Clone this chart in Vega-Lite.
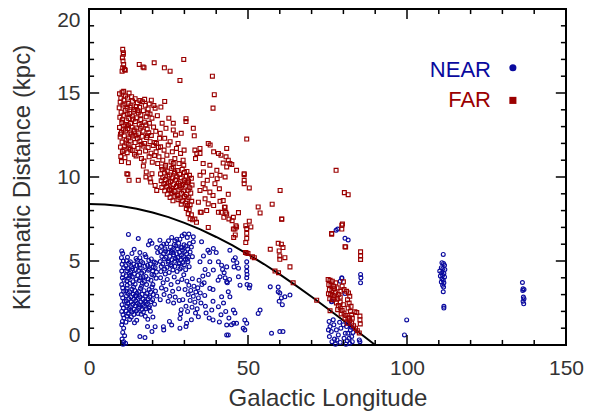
{
"$schema": "https://vega.github.io/schema/vega-lite/v6.json",
"width": 477, "height": 336,
"autosize": {"type": "none"},
"padding": {"left": 89, "top": 9, "right": 23, "bottom": 74},
"background": "white",
"config": {"view": {"stroke": "#000", "strokeWidth": 2}, "font": "Liberation Sans"},
"datasets": {
"ticks": [
{"x":10,"x2":10,"y":0,"y2":0.3},{"x":20,"x2":20,"y":0,"y2":0.3},{"x":30,"x2":30,"y":0,"y2":0.3},{"x":40,"x2":40,"y":0,"y2":0.3},{"x":50,"x2":50,"y":0,"y2":0.6},{"x":60,"x2":60,"y":0,"y2":0.3},{"x":70,"x2":70,"y":0,"y2":0.3},{"x":80,"x2":80,"y":0,"y2":0.3},{"x":90,"x2":90,"y":0,"y2":0.3},{"x":100,"x2":100,"y":0,"y2":0.6},{"x":110,"x2":110,"y":0,"y2":0.3},{"x":120,"x2":120,"y":0,"y2":0.3},{"x":130,"x2":130,"y":0,"y2":0.3},{"x":140,"x2":140,"y":0,"y2":0.3},
{"x":10,"x2":10,"y":20,"y2":19.7},{"x":20,"x2":20,"y":20,"y2":19.7},{"x":30,"x2":30,"y":20,"y2":19.7},{"x":40,"x2":40,"y":20,"y2":19.7},{"x":50,"x2":50,"y":20,"y2":19.4},{"x":60,"x2":60,"y":20,"y2":19.7},{"x":70,"x2":70,"y":20,"y2":19.7},{"x":80,"x2":80,"y":20,"y2":19.7},{"x":90,"x2":90,"y":20,"y2":19.7},{"x":100,"x2":100,"y":20,"y2":19.4},{"x":110,"x2":110,"y":20,"y2":19.7},{"x":120,"x2":120,"y":20,"y2":19.7},{"x":130,"x2":130,"y":20,"y2":19.7},{"x":140,"x2":140,"y":20,"y2":19.7},
{"x":0,"x2":1.6,"y":1,"y2":1},{"x":0,"x2":1.6,"y":2,"y2":2},{"x":0,"x2":1.6,"y":3,"y2":3},{"x":0,"x2":1.6,"y":4,"y2":4},{"x":0,"x2":3.2,"y":5,"y2":5},{"x":0,"x2":1.6,"y":6,"y2":6},{"x":0,"x2":1.6,"y":7,"y2":7},{"x":0,"x2":1.6,"y":8,"y2":8},{"x":0,"x2":1.6,"y":9,"y2":9},{"x":0,"x2":3.2,"y":10,"y2":10},{"x":0,"x2":1.6,"y":11,"y2":11},{"x":0,"x2":1.6,"y":12,"y2":12},{"x":0,"x2":1.6,"y":13,"y2":13},{"x":0,"x2":1.6,"y":14,"y2":14},{"x":0,"x2":3.2,"y":15,"y2":15},{"x":0,"x2":1.6,"y":16,"y2":16},{"x":0,"x2":1.6,"y":17,"y2":17},{"x":0,"x2":1.6,"y":18,"y2":18},{"x":0,"x2":1.6,"y":19,"y2":19},
{"x":150,"x2":148.4,"y":1,"y2":1},{"x":150,"x2":148.4,"y":2,"y2":2},{"x":150,"x2":148.4,"y":3,"y2":3},{"x":150,"x2":148.4,"y":4,"y2":4},{"x":150,"x2":146.8,"y":5,"y2":5},{"x":150,"x2":148.4,"y":6,"y2":6},{"x":150,"x2":148.4,"y":7,"y2":7},{"x":150,"x2":148.4,"y":8,"y2":8},{"x":150,"x2":148.4,"y":9,"y2":9},{"x":150,"x2":146.8,"y":10,"y2":10},{"x":150,"x2":148.4,"y":11,"y2":11},{"x":150,"x2":148.4,"y":12,"y2":12},{"x":150,"x2":148.4,"y":13,"y2":13},{"x":150,"x2":148.4,"y":14,"y2":14},{"x":150,"x2":146.8,"y":15,"y2":15},{"x":150,"x2":148.4,"y":16,"y2":16},{"x":150,"x2":148.4,"y":17,"y2":17},{"x":150,"x2":148.4,"y":18,"y2":18},{"x":150,"x2":148.4,"y":19,"y2":19}
],
"curve": [{"l":0,"d":8.40},{"l":5,"d":8.37},{"l":10,"d":8.27},{"l":15,"d":8.11},{"l":20,"d":7.89},{"l":25,"d":7.61},{"l":30,"d":7.27},{"l":35,"d":6.88},{"l":40,"d":6.43},{"l":45,"d":5.94},{"l":50,"d":5.40},{"l":55,"d":4.82},{"l":60,"d":4.20},{"l":65,"d":3.55},{"l":70,"d":2.87},{"l":75,"d":2.17},{"l":80,"d":1.46},{"l":85,"d":0.73},{"l":90,"d":0}],
"near": [
{"l":10.3,"d":5.6},{"l":10.6,"d":5.45},{"l":10.2,"d":5.2},{"l":10.8,"d":5.0},{"l":10.4,"d":4.8},{"l":10.9,"d":4.6},{"l":10.3,"d":4.4},{"l":10.7,"d":4.2},{"l":10.5,"d":4.0},{"l":11.0,"d":3.85},{"l":10.3,"d":3.6},{"l":10.6,"d":3.4},{"l":10.9,"d":3.2},{"l":10.2,"d":3.0},{"l":10.6,"d":2.8},{"l":11.1,"d":2.6},{"l":10.4,"d":2.4},{"l":10.8,"d":2.2},{"l":10.3,"d":2.0},{"l":10.7,"d":1.8},{"l":11.0,"d":1.6},{"l":10.5,"d":1.4},{"l":10.3,"d":1.2},{"l":10.9,"d":1.0},{"l":10.6,"d":0.75},{"l":11.2,"d":0.55},{"l":10.4,"d":0.35},{"l":10.9,"d":0.2},{"l":11.5,"d":0.1},{"l":10.7,"d":0.05},
{"l":12.1,"d":5.22},{"l":14.8,"d":5.15},{"l":17.9,"d":5.25},{"l":19.6,"d":5.12},
{"l":11.8,"d":5.02},{"l":13.0,"d":4.95},{"l":15.2,"d":5.05},{"l":16.4,"d":4.97},{"l":18.8,"d":5.03},{"l":20.5,"d":4.94},
{"l":12.5,"d":4.86},{"l":14.1,"d":4.82},{"l":16.9,"d":4.9},{"l":19.3,"d":4.81},{"l":21.0,"d":4.88},
{"l":11.6,"d":4.72},{"l":13.4,"d":4.66},{"l":15.0,"d":4.74},{"l":17.6,"d":4.68},{"l":18.4,"d":4.75},{"l":20.2,"d":4.64},
{"l":12.2,"d":4.56},{"l":14.6,"d":4.5},{"l":16.1,"d":4.58},{"l":19.0,"d":4.52},{"l":20.8,"d":4.6},
{"l":11.9,"d":4.42},{"l":13.1,"d":4.36},{"l":15.6,"d":4.44},{"l":17.2,"d":4.38},{"l":18.7,"d":4.45},{"l":21.2,"d":4.34},
{"l":12.7,"d":4.27},{"l":14.3,"d":4.22},{"l":16.6,"d":4.28},{"l":19.8,"d":4.2},
{"l":11.7,"d":4.12},{"l":13.6,"d":4.06},{"l":15.3,"d":4.14},{"l":17.9,"d":4.08},{"l":20.4,"d":4.15},
{"l":12.4,"d":3.97},{"l":14.9,"d":3.92},{"l":16.3,"d":3.99},{"l":18.6,"d":3.93},{"l":21.1,"d":3.98},
{"l":11.9,"d":3.82},{"l":13.8,"d":3.77},{"l":15.8,"d":3.84},{"l":17.4,"d":3.78},{"l":19.5,"d":3.85},
{"l":12.9,"d":3.67},{"l":14.5,"d":3.62},{"l":16.8,"d":3.68},{"l":20.1,"d":3.6},
{"l":12.0,"d":3.38},{"l":13.5,"d":3.32},{"l":16.2,"d":3.37},{"l":18.9,"d":3.3},
{"l":11.6,"d":3.22},{"l":12.8,"d":3.16},{"l":14.4,"d":3.24},{"l":15.7,"d":3.18},{"l":17.3,"d":3.23},{"l":19.4,"d":3.15},{"l":20.9,"d":3.21},
{"l":12.3,"d":3.07},{"l":13.9,"d":3.02},{"l":15.1,"d":3.08},{"l":16.7,"d":3.01},{"l":18.2,"d":3.06},{"l":20.2,"d":3.0},
{"l":11.8,"d":2.92},{"l":13.2,"d":2.86},{"l":14.8,"d":2.93},{"l":16.0,"d":2.87},{"l":17.8,"d":2.92},{"l":19.1,"d":2.85},{"l":21.3,"d":2.91},
{"l":12.5,"d":2.77},{"l":14.0,"d":2.72},{"l":15.5,"d":2.78},{"l":17.0,"d":2.71},{"l":18.6,"d":2.76},{"l":20.0,"d":2.7},
{"l":11.7,"d":2.62},{"l":13.3,"d":2.57},{"l":14.7,"d":2.63},{"l":16.3,"d":2.56},{"l":17.6,"d":2.61},{"l":19.5,"d":2.58},
{"l":12.2,"d":2.47},{"l":13.8,"d":2.42},{"l":15.2,"d":2.48},{"l":16.9,"d":2.41},{"l":18.3,"d":2.46},{"l":20.6,"d":2.43},
{"l":11.9,"d":2.32},{"l":13.0,"d":2.27},{"l":14.5,"d":2.33},{"l":15.9,"d":2.26},{"l":17.4,"d":2.31},{"l":19.0,"d":2.28},
{"l":12.6,"d":2.17},{"l":14.2,"d":2.12},{"l":15.6,"d":2.18},{"l":16.6,"d":2.11},{"l":18.0,"d":2.16},
{"l":11.7,"d":2.02},{"l":13.5,"d":1.97},{"l":14.9,"d":2.03},{"l":17.1,"d":1.96},{"l":19.3,"d":2.01},
{"l":12.3,"d":1.87},{"l":14.1,"d":1.82},{"l":15.4,"d":1.88},{"l":16.4,"d":1.83},
{"l":11.9,"d":1.72},{"l":13.3,"d":1.67},{"l":17.7,"d":1.71},{"l":20.1,"d":1.66},
{"l":12.8,"d":1.52},{"l":15.0,"d":1.47},{"l":18.5,"d":1.53},{"l":11.6,"d":1.36},{"l":14.3,"d":1.32},
{"l":13.7,"d":4.55},{"l":15.9,"d":4.75},{"l":17.0,"d":4.05},{"l":18.1,"d":3.6},{"l":12.0,"d":3.55},{"l":14.0,"d":3.45},{"l":16.5,"d":3.5},{"l":19.8,"d":3.45},{"l":13.1,"d":2.05},{"l":15.8,"d":2.4},{"l":17.9,"d":2.55},{"l":14.6,"d":2.95},{"l":18.8,"d":2.2},{"l":12.9,"d":4.1},{"l":20.0,"d":4.4},{"l":16.0,"d":5.2},
{"l":16.0,"d":0.5},{"l":17.6,"d":0.44},{"l":18.4,"d":1.1},{"l":20.8,"d":1.09},{"l":19.8,"d":0.8},
{"l":12.4,"d":6.58},{"l":15.5,"d":6.34},{"l":19.2,"d":6.2},{"l":19.8,"d":6.05},{"l":18.7,"d":5.96},{"l":17.6,"d":5.39},{"l":21.3,"d":5.8},{"l":21.6,"d":5.5},{"l":16.0,"d":5.5},{"l":13.5,"d":5.45},{"l":14.2,"d":5.7},
{"l":22.3,"d":6.24},{"l":23.5,"d":6.0},{"l":26.0,"d":6.4},{"l":27.6,"d":6.3},{"l":29.3,"d":6.5},{"l":31.4,"d":6.6},{"l":32.8,"d":6.44},{"l":30.0,"d":6.6},{"l":30.9,"d":6.4},{"l":25.0,"d":6.2},
{"l":24.4,"d":6.03},{"l":26.8,"d":5.97},{"l":28.2,"d":6.05},{"l":29.9,"d":5.96},{"l":31.6,"d":6.04},
{"l":22.8,"d":5.87},{"l":25.6,"d":5.82},{"l":27.3,"d":5.89},{"l":28.9,"d":5.81},{"l":30.5,"d":5.88},{"l":32.2,"d":5.83},
{"l":23.9,"d":5.72},{"l":26.2,"d":5.67},{"l":27.8,"d":5.73},{"l":29.4,"d":5.66},{"l":31.0,"d":5.71},
{"l":22.5,"d":5.57},{"l":24.8,"d":5.52},{"l":25.9,"d":5.58},{"l":28.5,"d":5.51},{"l":30.1,"d":5.57},{"l":31.8,"d":5.53},
{"l":23.4,"d":5.42},{"l":26.6,"d":5.37},{"l":27.5,"d":5.43},{"l":29.1,"d":5.36},{"l":30.7,"d":5.41},
{"l":22.9,"d":5.27},{"l":24.2,"d":5.22},{"l":25.4,"d":5.28},{"l":28.0,"d":5.21},{"l":29.7,"d":5.27},{"l":31.3,"d":5.23},{"l":32.5,"d":5.26},
{"l":23.7,"d":5.12},{"l":26.1,"d":5.07},{"l":27.2,"d":5.13},{"l":28.8,"d":5.06},{"l":30.3,"d":5.11},
{"l":22.4,"d":4.97},{"l":24.9,"d":4.92},{"l":26.9,"d":4.98},{"l":29.5,"d":4.91},{"l":31.1,"d":4.96},
{"l":23.2,"d":4.82},{"l":25.7,"d":4.77},{"l":28.3,"d":4.83},{"l":30.0,"d":4.78},
{"l":22.7,"d":4.67},{"l":24.5,"d":4.62},{"l":27.0,"d":4.68},{"l":29.0,"d":4.61},{"l":31.5,"d":4.66},
{"l":23.8,"d":4.52},{"l":26.4,"d":4.47},{"l":28.6,"d":4.53},{"l":30.4,"d":4.48},
{"l":22.6,"d":4.37},{"l":25.2,"d":4.32},{"l":27.7,"d":4.38},{"l":24.0,"d":4.22},{"l":29.8,"d":4.18},
{"l":27.0,"d":6.2},{"l":28.6,"d":6.3},{"l":25.0,"d":5.0},{"l":26.4,"d":5.5},{"l":27.9,"d":5.2},{"l":29.2,"d":5.8},{"l":30.9,"d":5.1},{"l":24.1,"d":5.6},{"l":28.4,"d":4.9},{"l":26.0,"d":4.7},
{"l":22.5,"d":4.0},{"l":24.6,"d":3.9},{"l":26.8,"d":4.05},{"l":23.3,"d":3.7},{"l":25.8,"d":3.6},{"l":27.9,"d":3.75},{"l":22.8,"d":3.4},{"l":24.2,"d":3.3},{"l":26.3,"d":3.2},{"l":28.2,"d":3.35},{"l":23.6,"d":3.0},{"l":25.4,"d":2.9},{"l":27.1,"d":2.85},{"l":22.4,"d":2.7},{"l":24.9,"d":2.6},{"l":26.6,"d":2.5},{"l":28.4,"d":2.65},
{"l":29.2,"d":3.9},{"l":30.8,"d":3.8},{"l":32.5,"d":3.95},{"l":34.6,"d":3.85},{"l":36.2,"d":3.7},{"l":31.4,"d":3.55},{"l":33.0,"d":3.5},{"l":34.2,"d":3.4},{"l":35.5,"d":3.6},{"l":30.2,"d":3.3},{"l":32.0,"d":3.25},{"l":33.6,"d":3.15},{"l":35.0,"d":3.1},{"l":31.2,"d":3.0},{"l":32.8,"d":2.9},{"l":34.4,"d":2.8},{"l":36.4,"d":2.95},{"l":29.5,"d":2.7},{"l":31.8,"d":2.65},{"l":33.3,"d":2.55},{"l":35.2,"d":2.5},{"l":30.5,"d":2.3},{"l":32.4,"d":2.25},{"l":34.0,"d":2.15},{"l":36.6,"d":2.3},{"l":29.0,"d":2.1},{"l":31.0,"d":2.0},{"l":28.8,"d":1.85},{"l":33.5,"d":1.9},
{"l":34.4,"d":1.68},{"l":32.2,"d":1.5},{"l":28.6,"d":1.58},{"l":30.7,"d":1.29},{"l":30.5,"d":1.1},{"l":26.0,"d":1.19},{"l":25.3,"d":1.4},{"l":23.4,"d":1.09},{"l":23.5,"d":0.9},{"l":28.6,"d":1.0},{"l":39.0,"d":1.49},{"l":41.0,"d":1.37},{"l":43.8,"d":0.6},{"l":43.3,"d":1.19},{"l":45.5,"d":1.29},{"l":49.0,"d":1.49},{"l":49.6,"d":1.29},{"l":48.5,"d":0.99},{"l":46.4,"d":1.29},{"l":44.8,"d":1.2},{"l":49.0,"d":0.9},{"l":43.3,"d":0.6},{"l":53.8,"d":2.08},{"l":53.2,"d":1.88},{"l":57.4,"d":0.7},{"l":60.0,"d":0.8},{"l":61.0,"d":0.8},
{"l":32.8,"d":6.14},{"l":35.4,"d":6.14},{"l":37.4,"d":5.64},{"l":37.9,"d":5.5},{"l":39.1,"d":5.74},{"l":44.3,"d":5.64},{"l":34.9,"d":4.95},{"l":38.0,"d":4.95},{"l":40.7,"d":4.95},{"l":41.7,"d":4.75},{"l":39.1,"d":4.46},{"l":43.3,"d":4.65},{"l":45.4,"d":5.05},{"l":45.6,"d":4.65},{"l":47.0,"d":4.06},{"l":49.6,"d":4.95},{"l":49.6,"d":4.66},{"l":49.6,"d":4.4},{"l":49.7,"d":4.2},{"l":49.6,"d":4.0},{"l":49.7,"d":3.6},{"l":50.4,"d":3.4},{"l":41.2,"d":4.06},{"l":40.6,"d":3.86},{"l":43.3,"d":3.76},{"l":44.2,"d":3.9},{"l":38.0,"d":3.37},{"l":39.0,"d":3.3},{"l":41.7,"d":2.87},{"l":39.0,"d":2.6},{"l":38.6,"d":2.08},{"l":40.7,"d":2.28},{"l":44.3,"d":2.87},{"l":45.4,"d":2.08},{"l":45.9,"d":1.9},{"l":37.5,"d":4.2},{"l":36.5,"d":4.5},{"l":42.5,"d":4.3},{"l":46.0,"d":5.2},{"l":46.5,"d":4.9},{"l":47.0,"d":4.57},{"l":50.6,"d":3.56},{"l":47.5,"d":3.56},{"l":43.8,"d":3.17},{"l":42.0,"d":4.5},{"l":42.8,"d":4.0},{"l":43.5,"d":3.7},{"l":42.3,"d":2.5},{"l":43.0,"d":2.0},{"l":41.5,"d":1.8},{"l":44.0,"d":1.6},{"l":36.8,"d":1.9},{"l":37.8,"d":1.6},{"l":35.8,"d":4.1},{"l":36.0,"d":5.3},{"l":40.0,"d":5.5},
{"l":57.0,"d":3.46},{"l":59.5,"d":3.45},{"l":60.0,"d":3.1},{"l":60.5,"d":2.8},{"l":60.8,"d":2.4},{"l":59.8,"d":2.6},{"l":61.6,"d":2.87},{"l":63.2,"d":2.97},{"l":59.5,"d":3.17},
{"l":77.7,"d":6.83},{"l":78.2,"d":6.9},{"l":80.5,"d":6.35},{"l":81.5,"d":6.25},{"l":79.5,"d":4.0},{"l":79.0,"d":3.8},{"l":79.5,"d":3.96},{"l":76.3,"d":2.57},{"l":80.5,"d":3.07},{"l":85.4,"d":4.2},{"l":85.5,"d":4.0},{"l":85.4,"d":3.7},{"l":76.3,"d":2.6},{"l":75.5,"d":1.4},{"l":75.8,"d":1.1},{"l":76.2,"d":0.8},{"l":75.6,"d":0.5},{"l":76.4,"d":0.2},{"l":77.0,"d":1.2},{"l":77.8,"d":0.9},{"l":78.4,"d":0.6},{"l":78.0,"d":0.3},{"l":79.2,"d":1.0},{"l":79.0,"d":0.15},{"l":77.5,"d":0.05},{"l":80.2,"d":0.4},{"l":81.0,"d":1.1},{"l":81.4,"d":0.7},{"l":81.8,"d":0.4},{"l":82.2,"d":0.9},{"l":82.0,"d":0.1},{"l":82.6,"d":0.5},{"l":81.2,"d":0.25},{"l":82.8,"d":0.2},{"l":83.0,"d":0.75},{"l":80.8,"d":0.05},{"l":85.0,"d":0.3},{"l":85.2,"d":0.2},{"l":76.8,"d":1.5},{"l":78.8,"d":1.35},{"l":80.0,"d":1.2},{"l":82.5,"d":1.05},{"l":75.3,"d":0.9},{"l":77.2,"d":0.35},{"l":80.6,"d":0.7},{"l":81.6,"d":1.3},
{"l":99.9,"d":1.49},{"l":99.2,"d":0.6},
{"l":111.4,"d":5.39},{"l":111.0,"d":4.9},{"l":111.5,"d":4.85},{"l":111.8,"d":4.75},{"l":110.8,"d":4.6},{"l":111.3,"d":4.55},{"l":111.9,"d":4.5},{"l":110.3,"d":4.4},{"l":110.9,"d":4.3},{"l":111.6,"d":4.25},{"l":111.2,"d":4.15},{"l":110.5,"d":4.1},{"l":111.8,"d":4.05},{"l":111.0,"d":3.95},{"l":111.4,"d":3.85},{"l":110.8,"d":3.75},{"l":111.6,"d":3.7},{"l":111.2,"d":3.55},{"l":111.5,"d":3.45},{"l":111.4,"d":3.17},{"l":111.6,"d":2.3},{"l":111.6,"d":2.2},
{"l":136.3,"d":3.72},{"l":136.5,"d":3.35},{"l":136.8,"d":3.3},{"l":136.4,"d":3.25},{"l":136.6,"d":2.85},{"l":136.8,"d":2.75},{"l":136.5,"d":2.6},{"l":136.7,"d":2.45}
],
"far": [
{"l":10.6,"d":17.6},{"l":10.8,"d":17.3},{"l":10.5,"d":17.1},{"l":10.7,"d":16.9},{"l":10.9,"d":16.7},{"l":10.6,"d":16.5},{"l":11.2,"d":16.4},{"l":10.4,"d":16.3},{"l":11.4,"d":16.35},{"l":10.8,"d":17.4},
{"l":15.8,"d":16.7},{"l":17.3,"d":16.5},{"l":17.0,"d":16.55},{"l":20.5,"d":16.8},{"l":23.7,"d":16.5},{"l":25.5,"d":16.3},{"l":28.6,"d":15.75},{"l":29.8,"d":17.0},{"l":38.8,"d":16.0},{"l":39.4,"d":14.9},{"l":39.0,"d":14.1},{"l":23.8,"d":14.5},{"l":49.6,"d":12.26},{"l":48.8,"d":10.2},{"l":48.8,"d":9.8},{"l":50.4,"d":9.35},{"l":60.1,"d":9.2},{"l":77.7,"d":10.4},{"l":80.3,"d":9.07},{"l":81.5,"d":8.95},
{"l":9.6,"d":14.95},{"l":10.4,"d":15.05},{"l":11.5,"d":14.82},{"l":12.6,"d":15.0},{"l":13.4,"d":14.78},{"l":14.5,"d":14.66},{"l":16.0,"d":14.55},{"l":17.5,"d":14.62},{"l":18.9,"d":14.35},{"l":20.4,"d":14.25},{"l":10.9,"d":15.1},{"l":12.1,"d":14.7},
{"l":9.8,"d":14.45},{"l":11.0,"d":14.58},{"l":12.3,"d":14.38},{"l":13.7,"d":14.52},{"l":15.2,"d":14.41},{"l":16.8,"d":14.48},{"l":19.6,"d":14.57},{"l":14.9,"d":14.2},
{"l":9.5,"d":14.12},{"l":10.7,"d":14.28},{"l":12.0,"d":14.09},{"l":13.2,"d":14.24},{"l":14.4,"d":14.02},{"l":15.9,"d":14.15},{"l":17.7,"d":14.27},{"l":20.8,"d":14.1},{"l":18.6,"d":14.05},
{"l":10.1,"d":13.86},{"l":11.4,"d":13.97},{"l":12.8,"d":13.78},{"l":14.0,"d":13.92},{"l":15.5,"d":13.82},{"l":17.1,"d":13.95},{"l":18.5,"d":13.8},{"l":16.3,"d":13.7},{"l":19.2,"d":13.75},
{"l":9.7,"d":13.55},{"l":11.0,"d":13.67},{"l":12.5,"d":13.48},{"l":13.6,"d":13.62},{"l":14.9,"d":13.52},{"l":16.3,"d":13.42},{"l":18.0,"d":13.58},{"l":19.8,"d":13.5},{"l":21.5,"d":13.65},{"l":10.5,"d":13.4},
{"l":10.3,"d":13.25},{"l":11.8,"d":13.35},{"l":13.1,"d":13.18},{"l":14.6,"d":13.3},{"l":15.8,"d":13.12},{"l":17.4,"d":13.26},{"l":19.0,"d":13.2},{"l":12.4,"d":13.05},
{"l":9.6,"d":12.95},{"l":10.9,"d":13.04},{"l":12.2,"d":12.88},{"l":13.5,"d":12.98},{"l":15.0,"d":12.92},{"l":16.6,"d":13.02},{"l":18.3,"d":12.85},{"l":20.3,"d":12.97},{"l":14.2,"d":12.8},
{"l":10.2,"d":12.66},{"l":11.5,"d":12.75},{"l":12.9,"d":12.62},{"l":14.2,"d":12.7},{"l":15.6,"d":12.58},{"l":17.0,"d":12.73},{"l":18.8,"d":12.64},{"l":21.0,"d":12.72},{"l":9.9,"d":12.55},
{"l":9.8,"d":12.38},{"l":11.1,"d":12.45},{"l":12.4,"d":12.32},{"l":13.8,"d":12.44},{"l":15.2,"d":12.3},{"l":16.7,"d":12.42},{"l":18.1,"d":12.35},{"l":19.6,"d":12.47},{"l":11.7,"d":12.2},
{"l":10.4,"d":12.08},{"l":11.7,"d":12.02},{"l":13.0,"d":12.14},{"l":14.5,"d":12.05},{"l":16.0,"d":12.12},{"l":17.5,"d":12.0},{"l":19.2,"d":12.1},{"l":20.7,"d":12.06},{"l":12.3,"d":11.95},
{"l":9.9,"d":11.78},{"l":11.2,"d":11.85},{"l":12.6,"d":11.73},{"l":14.1,"d":11.82},{"l":15.4,"d":11.7},{"l":17.0,"d":11.84},{"l":18.6,"d":11.75},{"l":20.2,"d":11.88},{"l":21.8,"d":11.76},
{"l":10.5,"d":11.52},{"l":12.0,"d":11.45},{"l":13.6,"d":11.58},{"l":15.9,"d":11.48},{"l":17.8,"d":11.55},{"l":19.5,"d":11.42},{"l":21.1,"d":11.5},{"l":14.3,"d":11.35},
{"l":10.0,"d":11.22},{"l":11.3,"d":11.15},{"l":14.8,"d":11.25},{"l":16.5,"d":11.1},{"l":18.9,"d":11.2},{"l":20.6,"d":11.28},
{"l":10.2,"d":10.92},{"l":12.4,"d":10.85},{"l":17.3,"d":10.95},{"l":19.9,"d":10.88},
{"l":10.0,"d":14.7},{"l":11.3,"d":14.35},{"l":12.9,"d":14.15},{"l":13.9,"d":13.45},{"l":11.6,"d":13.1},{"l":13.3,"d":12.55},{"l":10.8,"d":12.85},{"l":14.8,"d":12.45},{"l":12.0,"d":13.75},{"l":15.3,"d":13.95},{"l":16.1,"d":12.9},{"l":17.9,"d":13.1},{"l":18.4,"d":12.45},{"l":11.0,"d":11.6},{"l":13.0,"d":11.65},{"l":16.4,"d":11.95},
{"l":12.2,"d":10.16},{"l":12.6,"d":9.8},{"l":15.5,"d":9.8},{"l":17.1,"d":10.65},{"l":17.9,"d":10.0},{"l":19.4,"d":9.7},{"l":19.8,"d":10.2},{"l":21.3,"d":9.2},{"l":11.9,"d":10.2},{"l":19.2,"d":9.9},{"l":20.8,"d":9.5},{"l":18.0,"d":10.3},
{"l":22.6,"d":14.16},{"l":23.0,"d":13.2},{"l":26.5,"d":13.2},{"l":26.5,"d":12.8},{"l":27.2,"d":12.5},{"l":29.0,"d":12.6},{"l":30.5,"d":13.47},{"l":30.5,"d":13.3},{"l":32.8,"d":12.9},{"l":33.1,"d":12.45},{"l":24.2,"d":12.9},{"l":25.1,"d":13.5},{"l":22.4,"d":12.6},{"l":23.8,"d":12.3},{"l":25.5,"d":12.1},{"l":28.0,"d":12.0},{"l":22.2,"d":12.3},
{"l":21.2,"d":12.0},{"l":22.5,"d":11.8},{"l":23.6,"d":11.6},{"l":24.9,"d":11.9},{"l":26.2,"d":11.5},{"l":27.5,"d":11.7},{"l":28.8,"d":11.4},{"l":29.9,"d":11.6},{"l":22.0,"d":11.2},{"l":23.2,"d":11.0},{"l":24.5,"d":11.3},{"l":25.8,"d":10.9},{"l":27.0,"d":11.1},{"l":28.3,"d":10.8},{"l":29.6,"d":11.0},{"l":22.8,"d":10.6},{"l":24.1,"d":10.7},{"l":26.5,"d":10.6},{"l":21.6,"d":10.8},
{"l":23.0,"d":10.45},{"l":24.6,"d":10.35},{"l":26.0,"d":10.5},{"l":27.8,"d":10.38},{"l":29.3,"d":10.46},{"l":30.8,"d":10.33},
{"l":22.5,"d":10.18},{"l":23.8,"d":10.25},{"l":25.3,"d":10.12},{"l":26.9,"d":10.22},{"l":28.5,"d":10.15},{"l":30.0,"d":10.27},{"l":31.6,"d":10.1},
{"l":23.2,"d":9.96},{"l":24.8,"d":10.04},{"l":26.3,"d":9.93},{"l":27.6,"d":10.02},{"l":29.0,"d":9.95},{"l":30.6,"d":10.05},{"l":32.2,"d":9.92},
{"l":22.7,"d":9.78},{"l":24.0,"d":9.85},{"l":25.6,"d":9.74},{"l":27.2,"d":9.83},{"l":28.8,"d":9.72},{"l":29.9,"d":9.81},{"l":31.3,"d":9.76},
{"l":23.5,"d":9.58},{"l":25.0,"d":9.65},{"l":26.6,"d":9.54},{"l":28.1,"d":9.63},{"l":29.5,"d":9.56},{"l":31.0,"d":9.66},{"l":32.4,"d":9.52},
{"l":22.9,"d":9.38},{"l":24.4,"d":9.45},{"l":25.9,"d":9.34},{"l":27.5,"d":9.43},{"l":28.9,"d":9.35},{"l":30.3,"d":9.46},{"l":31.7,"d":9.36},
{"l":23.8,"d":9.18},{"l":25.3,"d":9.25},{"l":26.8,"d":9.14},{"l":28.3,"d":9.24},{"l":29.7,"d":9.16},{"l":31.2,"d":9.22},
{"l":24.6,"d":8.98},{"l":26.1,"d":9.05},{"l":27.7,"d":8.95},{"l":29.1,"d":9.03},{"l":30.6,"d":8.96},{"l":32.0,"d":9.04},
{"l":25.5,"d":8.78},{"l":27.0,"d":8.85},{"l":28.6,"d":8.75},{"l":30.0,"d":8.84},{"l":31.4,"d":8.77},
{"l":26.4,"d":8.58},{"l":28.0,"d":8.65},{"l":29.4,"d":8.56},{"l":30.9,"d":8.64},{"l":32.3,"d":8.55},
{"l":29.0,"d":8.38},{"l":30.4,"d":8.44},{"l":31.8,"d":8.35},{"l":30.6,"d":8.12},{"l":31.5,"d":8.05},{"l":31.2,"d":7.82},{"l":32.2,"d":7.75},{"l":31.8,"d":7.52},{"l":32.6,"d":7.45},
{"l":24.0,"d":10.6},{"l":27.0,"d":10.3},{"l":29.8,"d":10.7},{"l":25.8,"d":9.2},{"l":28.5,"d":9.5},{"l":30.5,"d":9.7},{"l":26.5,"d":10.8},{"l":23.9,"d":9.6},{"l":27.9,"d":8.9},{"l":31.0,"d":8.3},
{"l":33.3,"d":11.6},{"l":33.9,"d":11.4},{"l":33.5,"d":11.1},{"l":35.9,"d":10.8},{"l":38.0,"d":10.7},{"l":40.2,"d":10.4},{"l":34.9,"d":10.1},{"l":35.9,"d":9.6},{"l":34.9,"d":9.2},{"l":36.5,"d":9.3},{"l":38.0,"d":9.1},{"l":39.6,"d":9.6},{"l":40.3,"d":9.9},{"l":42.8,"d":10.0},{"l":43.3,"d":10.6},{"l":43.8,"d":11.0},{"l":37.5,"d":8.4},{"l":39.2,"d":8.3},{"l":40.7,"d":7.9},{"l":42.8,"d":8.2},{"l":43.3,"d":7.8},{"l":34.4,"d":8.5},{"l":33.3,"d":7.5},{"l":33.8,"d":7.3},{"l":37.0,"d":8.0},{"l":34.9,"d":11.7},{"l":34.9,"d":11.4},{"l":37.5,"d":12.0},{"l":38.1,"d":11.9},{"l":39.2,"d":11.5},{"l":40.7,"d":11.4},{"l":41.5,"d":11.3},{"l":43.3,"d":11.7},{"l":44.3,"d":10.8},{"l":46.4,"d":10.4},{"l":43.1,"d":11.2},{"l":42.2,"d":10.83},{"l":44.9,"d":10.74},{"l":41.2,"d":10.1},{"l":48.8,"d":10.14},{"l":48.8,"d":9.6},{"l":43.8,"d":8.97},{"l":41.2,"d":8.55},{"l":42.2,"d":8.6},{"l":42.6,"d":8.2},{"l":43.0,"d":7.9},{"l":42.4,"d":7.6},{"l":47.0,"d":7.88},{"l":45.4,"d":7.6},{"l":45.0,"d":7.4},{"l":50.4,"d":7.37},{"l":50.9,"d":7.03},{"l":53.2,"d":8.22},{"l":53.8,"d":7.86},{"l":57.6,"d":8.38},{"l":60.6,"d":7.49},{"l":49.6,"d":6.93},{"l":49.6,"d":6.65},{"l":49.6,"d":6.35},{"l":46.4,"d":7.03},{"l":46.0,"d":6.55},{"l":41.6,"d":7.9},{"l":44.0,"d":7.5},{"l":36.0,"d":10.3},{"l":37.2,"d":9.8},{"l":38.6,"d":10.1},{"l":39.0,"d":8.9},{"l":41.0,"d":9.3},{"l":36.5,"d":8.7},{"l":35.3,"d":7.9},{"l":35.0,"d":7.9},{"l":37.5,"d":7.0},{"l":45.4,"d":6.9},{"l":45.9,"d":6.9},{"l":46.2,"d":7.1},{"l":45.5,"d":6.4},{"l":49.3,"d":7.1},{"l":49.3,"d":6.1},{"l":57.0,"d":5.7},{"l":59.5,"d":6.05},{"l":60.0,"d":5.3},{"l":60.0,"d":5.1},{"l":60.6,"d":7.5},{"l":63.2,"d":4.65},{"l":59.8,"d":5.6},{"l":61.0,"d":5.8},{"l":61.6,"d":5.2},{"l":60.5,"d":6.0},
{"l":49.2,"d":5.5},{"l":49.6,"d":5.48},{"l":50.0,"d":5.45},{"l":52.0,"d":5.2},{"l":51.4,"d":5.25},{"l":58.5,"d":4.4},{"l":59.6,"d":4.3},{"l":64.2,"d":3.7},{"l":71.6,"d":2.67},{"l":75.8,"d":2.04},
{"l":76.3,"d":6.64},{"l":79.5,"d":7.13},{"l":79.5,"d":6.9},{"l":79.7,"d":7.2},{"l":80.5,"d":5.85},{"l":80.7,"d":5.84},{"l":85.4,"d":5.55},{"l":85.4,"d":5.3},{"l":85.4,"d":5.09},{"l":80.0,"d":3.76},{"l":76.3,"d":6.6},
{"l":75.2,"d":3.9},{"l":75.8,"d":3.85},{"l":76.5,"d":3.8},{"l":75.4,"d":3.6},{"l":76.1,"d":3.55},{"l":76.9,"d":3.5},{"l":77.6,"d":3.7},{"l":75.6,"d":3.3},{"l":76.4,"d":3.25},{"l":77.2,"d":3.35},{"l":78.0,"d":3.4},{"l":75.3,"d":3.05},{"l":76.0,"d":3.0},{"l":76.8,"d":2.95},{"l":77.5,"d":3.1},{"l":78.4,"d":3.0},{"l":79.2,"d":3.2},{"l":75.7,"d":2.75},{"l":76.5,"d":2.7},{"l":77.3,"d":2.8},{"l":78.1,"d":2.75},{"l":79.0,"d":2.85},{"l":79.6,"d":3.5},{"l":80.2,"d":3.3},
{"l":81.0,"d":3.2},{"l":81.6,"d":3.1},{"l":82.0,"d":2.9},{"l":81.3,"d":2.7},{"l":81.8,"d":2.5},{"l":82.4,"d":2.3},{"l":81.5,"d":2.2},{"l":82.2,"d":2.0},{"l":82.6,"d":1.8},{"l":81.9,"d":1.6},
{"l":77.8,"d":2.5},{"l":78.4,"d":2.35},{"l":79.0,"d":2.2},{"l":79.6,"d":2.05},{"l":80.2,"d":1.9},{"l":80.8,"d":1.75},{"l":81.4,"d":1.6},{"l":82.0,"d":1.45},{"l":82.6,"d":1.3},{"l":83.2,"d":1.15},{"l":83.8,"d":1.0},{"l":84.4,"d":0.85},{"l":85.0,"d":0.72},{"l":78.2,"d":2.1},{"l":79.3,"d":1.85},{"l":80.5,"d":1.6},{"l":81.2,"d":1.3},{"l":82.8,"d":1.6},{"l":83.6,"d":1.98},{"l":84.2,"d":1.93},{"l":85.2,"d":1.72},{"l":85.2,"d":1.5},{"l":85.3,"d":1.25},{"l":79.0,"d":2.55},{"l":80.0,"d":2.4}
],
"legtext": [{"l":126.4,"d":15.98,"t":"NEAR","s":"NEAR"},{"l":126.4,"d":14.14,"t":"FAR","s":"FAR"}],
"legsym": [{"l":133.3,"d":16.5,"s":"NEAR"},{"l":133.3,"d":14.56,"s":"FAR"}]
},
"layer": [
{
 "data": {"name": "curve"},
 "mark": {"type": "line", "color": "#000", "strokeWidth": 2},
 "encoding": {
  "x": {"field": "l", "type": "quantitative", "scale": {"domain": [0,150], "nice": false, "zero": false},
   "axis": {"orient": "bottom", "values": [0,50,100,150], "ticks": false, "labelFlush": false, "labelOverlap": false, "domain": false, "grid": false, "labelFontSize": 21, "labelColor": "#333", "labelPadding": 12, "title": "Galactic Longitude", "titleFontSize": 24, "titleFontWeight": "normal", "titleColor": "#333", "titlePadding": 8}},
  "y": {"field": "d", "type": "quantitative", "scale": {"domain": [0,20], "nice": false, "zero": false},
   "axis": {"orient": "left", "values": [0,5,10,15,20], "ticks": false, "labelFlush": true, "labelOverlap": false, "domain": false, "grid": false, "labelFontSize": 21, "labelColor": "#333", "labelPadding": 9, "title": "Kinematic Distance (kpc)", "titleFontSize": 24, "titleFontWeight": "normal", "titleColor": "#333", "titlePadding": 22}}
 }
},
{
 "data": {"name": "near"},
 "mark": {"type": "point", "shape": "circle", "filled": false, "color": "#0a0a9e", "strokeWidth": 1.15, "size": 15, "opacity": 1},
 "encoding": {
  "x": {"field": "l", "type": "quantitative", "scale": {"domain": [0,150], "nice": false, "zero": false}},
  "y": {"field": "d", "type": "quantitative", "scale": {"domain": [0,20], "nice": false, "zero": false}}
 }
},
{
 "data": {"name": "far"},
 "mark": {"type": "point", "shape": "square", "filled": false, "color": "#9b0000", "strokeWidth": 1.15, "size": 15, "opacity": 1},
 "encoding": {
  "x": {"field": "l", "type": "quantitative", "scale": {"domain": [0,150], "nice": false, "zero": false}},
  "y": {"field": "d", "type": "quantitative", "scale": {"domain": [0,20], "nice": false, "zero": false}}
 }
},
{
 "data": {"name": "ticks"},
 "mark": {"type": "rule", "color": "#000", "strokeWidth": 1.5},
 "encoding": {
  "x": {"field": "x", "type": "quantitative", "scale": {"domain": [0,150], "nice": false, "zero": false}},
  "x2": {"field": "x2"},
  "y": {"field": "y", "type": "quantitative", "scale": {"domain": [0,20], "nice": false, "zero": false}},
  "y2": {"field": "y2"}
 }
},
{
 "data": {"name": "legtext"},
 "mark": {"type": "text", "align": "right", "baseline": "alphabetic", "fontSize": 22, "font": "Liberation Sans"},
 "encoding": {
  "x": {"field": "l", "type": "quantitative", "scale": {"domain": [0,150], "nice": false, "zero": false}},
  "y": {"field": "d", "type": "quantitative", "scale": {"domain": [0,20], "nice": false, "zero": false}},
  "text": {"field": "t"},
  "color": {"field": "s", "type": "nominal", "scale": {"domain": ["NEAR","FAR"], "range": ["#0a0a9e","#9b0000"]}, "legend": null}
 }
},
{
 "data": {"name": "legsym"},
 "mark": {"type": "point", "filled": true, "size": 50, "opacity": 1},
 "encoding": {
  "x": {"field": "l", "type": "quantitative", "scale": {"domain": [0,150], "nice": false, "zero": false}},
  "y": {"field": "d", "type": "quantitative", "scale": {"domain": [0,20], "nice": false, "zero": false}},
  "shape": {"field": "s", "type": "nominal", "scale": {"domain": ["NEAR","FAR"], "range": ["circle","square"]}, "legend": null},
  "color": {"field": "s", "type": "nominal", "scale": {"domain": ["NEAR","FAR"], "range": ["#0a0a9e","#9b0000"]}, "legend": null}
 }
}
]
}
